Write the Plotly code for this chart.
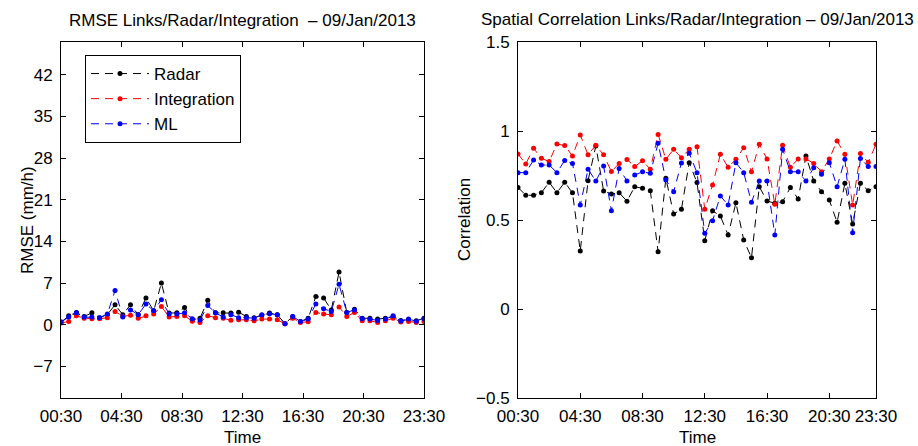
import plotly.graph_objects as go

# ---------------- data ----------------
tick_labels = ["00:30", "04:30", "08:30", "12:30", "16:30", "20:30", "23:30"]

# RMSE panel: 48 half-hourly samples
rmse_hours = [0.5 + 0.5 * i for i in range(48)]
rmse_radar = [0.4, 1.5, 2.07, 1.4, 2.0, 1.2, 1.7, 3.36, 1.7, 3.36, 1.7, 4.5,
              2.35, 7.0, 1.96, 2.0, 2.9, 0.84, 1.1, 4.1, 2.0, 2.0, 1.96, 2.1,
              1.4, 1.2, 1.6, 1.96, 1.7, 0.17, 1.4, 0.56, 1.1, 4.76, 4.5, 2.5,
              8.85, 2.07, 2.6, 1.1, 1.1, 0.95, 1.1, 1.4, 0.73, 0.85, 0.67, 1.1]
rmse_integration = [0.3, 0.55, 1.5, 1.1, 1.0, 1.0, 1.2, 2.24, 1.4, 1.6, 1.1, 1.5,
                    1.8, 3.07, 1.3, 1.4, 1.5, 0.6, 0.4, 1.5, 1.2, 1.1, 0.75, 0.84,
                    0.84, 0.67, 0.95, 0.95, 0.84, 0.17, 1.1, 0.4, 0.5, 2.07, 1.8, 1.7,
                    2.97, 1.4, 2.07, 0.67, 0.67, 0.4, 0.67, 1.1, 0.45, 0.56, 0.4, 0.56]
rmse_ml = [0.5, 1.3, 2.0, 1.3, 1.3, 1.2, 1.8, 5.76, 1.3, 2.5, 1.7, 3.5,
           2.35, 4.2, 1.8, 1.8, 2.0, 1.0, 0.8, 3.25, 2.0, 1.3, 1.7, 1.2,
           1.2, 1.1, 1.7, 1.85, 1.7, 0.17, 1.4, 0.56, 0.95, 3.5, 2.7, 2.24,
           6.8, 2.07, 2.5, 1.0, 0.95, 0.73, 0.95, 1.5, 0.65, 0.95, 0.6, 1.0]

# Correlation panel: 47 half-hourly samples 00:30 .. 23:30
corr_hours = [0.5 + 0.5 * i for i in range(47)]
corr_radar = [0.683, 0.639, 0.639, 0.653, 0.712, 0.653, 0.712, 0.653, 0.326, 0.721,
              0.916, 0.663, 0.646, 0.653, 0.606, 0.687, 0.678, 0.665, 0.322, 0.734,
              0.534, 0.56, 0.822, 0.71, 0.384, 0.552, 0.522, 0.416, 0.597, 0.388,
              0.288, 0.687, 0.607, 0.594, 0.603, 0.682, 0.618, 0.86, 0.719, 0.659,
              0.612, 0.487, 0.706, 0.478, 0.706, 0.665, 0.687]
corr_integration = [0.871, 0.815, 0.903, 0.847, 0.828, 0.927, 0.918, 0.86, 0.978, 0.866,
                    0.92, 0.866, 0.772, 0.818, 0.84, 0.8, 0.833, 0.785, 0.981, 0.841,
                    0.897, 0.85, 0.897, 0.912, 0.56, 0.697, 0.869, 0.796, 0.841, 0.906,
                    0.771, 0.925, 0.843, 0.588, 0.92, 0.796, 0.843, 0.843, 0.818, 0.771,
                    0.843, 0.944, 0.869, 0.584, 0.873, 0.824, 0.925]
corr_ml = [0.766, 0.766, 0.837, 0.809, 0.809, 0.766, 0.834, 0.818, 0.584, 0.785,
           0.719, 0.803, 0.552, 0.79, 0.719, 0.753, 0.771, 0.762, 0.931, 0.725,
           0.659, 0.82, 0.875, 0.766, 0.425, 0.496, 0.635, 0.584, 0.822, 0.766,
           0.6, 0.719, 0.719, 0.416, 0.897, 0.771, 0.771, 0.719, 0.794, 0.757,
           0.822, 0.687, 0.841, 0.429, 0.845, 0.8, 0.8]

series_names = ["Radar", "Integration", "ML"]
colors = ["#000000", "#ff0000", "#0000ff"]

FONT = "Liberation Sans, Arial, Helvetica, sans-serif"
FS = 17
W, H = 918, 446
DASH = "8px,6px"

fig = go.Figure()

for name, col, ys in zip(series_names, colors, [rmse_radar, rmse_integration, rmse_ml]):
    fig.add_trace(go.Scatter(
        x=rmse_hours, y=ys, mode="lines+markers", name=name, legendgroup=name,
        line=dict(color=col, width=1, dash=DASH),
        marker=dict(color=col, size=5), xaxis="x", yaxis="y"))

for name, col, ys in zip(series_names, colors, [corr_radar, corr_integration, corr_ml]):
    fig.add_trace(go.Scatter(
        x=corr_hours, y=ys, mode="lines+markers", name=name, showlegend=False,
        line=dict(color=col, width=1, dash=DASH),
        marker=dict(color=col, size=5), xaxis="x2", yaxis="y2"))

axis_common = dict(showline=True, linecolor="black", linewidth=1, mirror="ticks",
                   ticks="inside", ticklen=5, tickcolor="black", showgrid=False,
                   zeroline=False, automargin=False,
                   tickfont=dict(family=FONT, size=FS, color="black"))

yd = [(H - 398) / H, (H - 42) / H]
left_dom = [61 / W, 424 / W]
right_dom = [518 / W, 876 / W]

n_l = len(tick_labels)
l_lo, l_hi = rmse_hours[0], rmse_hours[-1]
left_ticks = [l_lo + k * (l_hi - l_lo) / (n_l - 1) for k in range(n_l)]
right_ticks = [0.5, 4.5, 8.5, 12.5, 16.5, 20.5, 23.5]

fig.update_layout(
    width=W, height=H, margin=dict(l=0, r=0, t=0, b=0),
    paper_bgcolor="white", plot_bgcolor="white",
    font=dict(family=FONT, size=FS, color="black"),
    xaxis=dict(domain=left_dom, range=[l_lo, l_hi], tickvals=left_ticks,
               ticktext=tick_labels, anchor="y", ticklabelstandoff=3, **axis_common),
    yaxis=dict(domain=yd, range=[-12.3, 47.5], tickvals=[-7, 0, 7, 14, 21, 28, 35, 42],
               anchor="x", ticklabelstandoff=4, **axis_common),
    xaxis2=dict(domain=right_dom, range=[0.5, 23.5], tickvals=right_ticks,
                ticktext=tick_labels, anchor="y2", ticklabelstandoff=3, **axis_common),
    yaxis2=dict(domain=yd, range=[-0.5, 1.5], tickvals=[-0.5, 0, 0.5, 1, 1.5],
                ticktext=["\u22120.5", "0", "0.5", "1", "1.5"], anchor="x2",
                ticklabelstandoff=4, **axis_common),
    showlegend=True,
    legend=dict(x=85 / W, y=1 - 55 / H, xanchor="left", yanchor="top",
                bgcolor="white", bordercolor="black", borderwidth=1,
                font=dict(family=FONT, size=FS, color="black"),
                tracegroupgap=0, itemwidth=58),
    annotations=[
        dict(text="RMSE Links/Radar/Integration  \u2013 09/Jan/2013", x=242.5 / W, y=1 - 20.5 / H,
             xref="paper", yref="paper", showarrow=False, xanchor="center", yanchor="middle",
             font=dict(family=FONT, size=FS)),
        dict(text="Spatial Correlation Links/Radar/Integration \u2013 09/Jan/2013", x=697 / W,
             y=1 - 19.5 / H, xref="paper", yref="paper", showarrow=False, xanchor="center",
             yanchor="middle", font=dict(family=FONT, size=FS)),
        dict(text="RMSE (mm/h)", x=27 / W, y=0.5 * (yd[0] + yd[1]), xref="paper", yref="paper",
             showarrow=False, textangle=-90, xanchor="center", yanchor="middle",
             font=dict(family=FONT, size=FS)),
        dict(text="Correlation", x=464 / W, y=0.5 * (yd[0] + yd[1]), xref="paper", yref="paper",
             showarrow=False, textangle=-90, xanchor="center", yanchor="middle",
             font=dict(family=FONT, size=FS)),
        dict(text="Time", x=242.5 / W, y=1 - 437 / H, xref="paper", yref="paper",
             showarrow=False, xanchor="center", yanchor="middle", font=dict(family=FONT, size=FS)),
        dict(text="Time", x=697 / W, y=1 - 437 / H, xref="paper", yref="paper",
             showarrow=False, xanchor="center", yanchor="middle", font=dict(family=FONT, size=FS)),
    ],
)

fig.write_html("out.html")
